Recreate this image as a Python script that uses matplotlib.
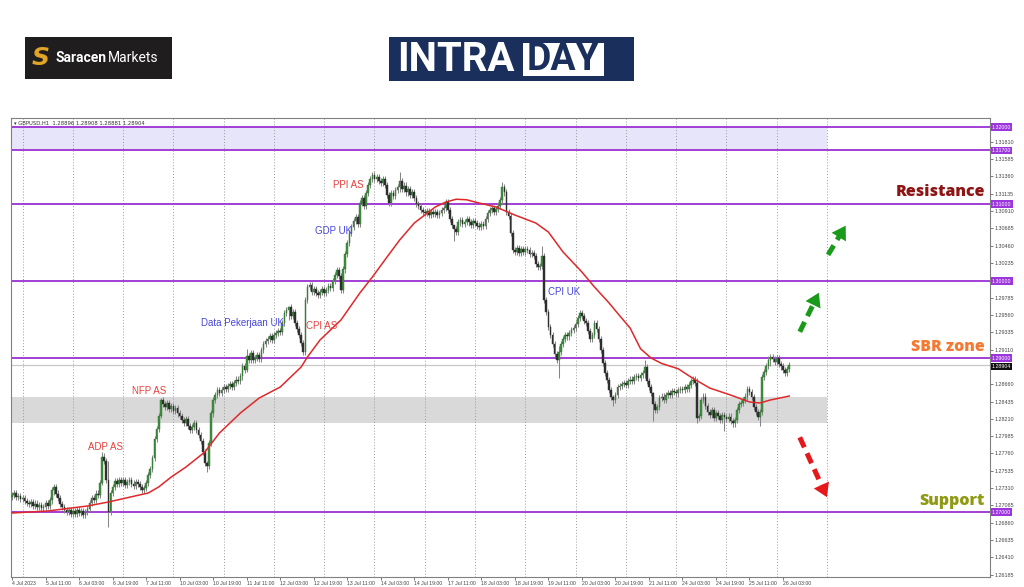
import numpy as np
import matplotlib
matplotlib.use("Agg")
import matplotlib.pyplot as plt
from matplotlib.patches import Rectangle
from matplotlib.transforms import blended_transform_factory

# GBPUSD H1 closes, in 1e-4 above 1.0000 (2722 -> 1.2722)
closes_pips = [
    2722, 2725, 2719, 2721, 2717, 2718, 2714, 2712,
    2710, 2713, 2708, 2711, 2706, 2709, 2705, 2707,
    2712, 2708, 2715, 2728, 2733, 2724, 2718, 2710,
    2706, 2703, 2700, 2702, 2698, 2701, 2697, 2703,
    2699, 2701, 2696, 2700, 2704, 2712, 2718, 2716,
    2724, 2722, 2738, 2772, 2766, 2742, 2700, 2725,
    2733, 2740, 2736, 2742, 2738, 2741, 2735, 2739,
    2742, 2737, 2734, 2739, 2736, 2733, 2729, 2731,
    2738, 2748, 2756, 2770, 2795, 2808, 2825, 2845,
    2840, 2836, 2842, 2834, 2838, 2831, 2835, 2828,
    2825, 2820, 2816, 2821, 2812, 2807, 2810, 2815,
    2806, 2800, 2792, 2778, 2764, 2760, 2790, 2828,
    2845, 2852, 2858, 2855, 2859, 2862, 2860, 2864,
    2866, 2863, 2868, 2872, 2870, 2876, 2890, 2884,
    2902, 2898, 2906, 2897, 2900, 2904, 2899, 2910,
    2918, 2922, 2925, 2928, 2924, 2930, 2933, 2935,
    2934, 2945, 2958, 2962, 2966, 2955, 2960, 2946,
    2938, 2930, 2920, 2908, 2975, 2992, 2995, 2986,
    2990, 2984, 2982, 2986, 2990, 2985, 2988, 2993,
    2991, 3000, 3008, 3014, 3006, 2988, 3015, 3035,
    3049, 3062, 3070, 3078, 3083, 3074, 3101, 3108,
    3098, 3114, 3125, 3132, 3138, 3133, 3135, 3130,
    3127, 3132, 3125, 3112, 3101, 3114, 3110, 3118,
    3122, 3130, 3120, 3124, 3115, 3119, 3112, 3116,
    3108, 3100, 3097, 3092, 3090, 3088, 3091, 3086,
    3089, 3087, 3090, 3086, 3088, 3092, 3095, 3103,
    3092, 3080, 3073, 3068, 3064, 3076, 3079, 3074,
    3077, 3080, 3076, 3073, 3078, 3075, 3072, 3070,
    3074, 3071, 3080, 3088, 3092, 3095, 3090, 3093,
    3098, 3105, 3122, 3115, 3090, 3084, 3062, 3040,
    3038, 3043, 3036, 3041, 3038, 3042, 3040, 3035,
    3036, 3032, 3022, 3018, 3020, 3032, 2975, 2960,
    2940, 2930, 2918, 2905, 2898, 2908, 2918, 2925,
    2930, 2928, 2933, 2936, 2939, 2944, 2952, 2958,
    2955, 2948, 2945, 2935, 2925, 2930, 2945, 2938,
    2925, 2910, 2893, 2880, 2871, 2858, 2850, 2845,
    2852, 2862, 2864, 2866, 2868, 2865, 2870, 2872,
    2870, 2875, 2877, 2874, 2878, 2880, 2888, 2870,
    2862, 2855, 2840, 2832, 2836, 2848, 2850, 2846,
    2852, 2855, 2852, 2857, 2856, 2854, 2858, 2860,
    2858, 2862, 2860, 2865, 2870, 2872, 2868, 2822,
    2825, 2846, 2850, 2838, 2830, 2826, 2832, 2822,
    2828, 2825, 2820, 2826, 2823, 2821, 2824, 2818,
    2815, 2820, 2832, 2840, 2842, 2845, 2850, 2860,
    2856, 2849, 2836, 2830, 2824, 2830, 2875, 2882,
    2890, 2898, 2901, 2899, 2895, 2900, 2892, 2889,
    2884, 2880, 2886, 2890.4,
]
first_open_pips = 2720

# bars with long wicks: index -> (high, low) in the same units
wick_pips = {
    20: (2736, 2722), 43: (2778, 2735), 46: (2766, 2681), 71: (2848, 2822),
    93: (2766, 2752), 112: (2912, 2882), 132: (2968, 2950), 185: (3142, 3115),
    211: (3072, 3052), 234: (3128, 3100), 253: (3045, 3015), 261: (2915, 2874),
    287: (2852, 2838), 302: (2898, 2874), 306: (2856, 2818), 327: (2874, 2816),
    340: (2830, 2805), 357: (2834, 2812), 362: (2905, 2890),
}

# red moving average (bar index, price)
ma_idx = [0, 17, 36, 46, 65, 70, 76, 83, 92, 99, 109, 118, 128, 138, 141, 147,
          157, 166, 172, 179, 185, 192, 202, 207, 212, 217, 221, 231, 240, 250,
          256, 263, 272, 278, 285, 290, 295, 300, 305, 310, 318, 324, 333, 343,
          352, 357, 362, 371]
ma_val = [1.26987, 1.27013, 1.27078, 1.2713, 1.27247, 1.27325, 1.27455, 1.27584,
          1.27779, 1.28026, 1.28286, 1.28481, 1.28623, 1.28883, 1.29013, 1.29234,
          1.29494, 1.29844, 1.30052, 1.30312, 1.30532, 1.30753, 1.30961, 1.31025,
          1.31062, 1.31055, 1.31026, 1.30961, 1.30857, 1.30753, 1.30636, 1.30377,
          1.30117, 1.29922, 1.29714, 1.2955, 1.2939, 1.2912, 1.2900, 1.2893,
          1.2886, 1.28753, 1.2861, 1.28519, 1.28429, 1.28416, 1.28455, 1.28506]

levels = [1.32000, 1.31700, 1.31000, 1.30000, 1.29000, 1.27000]
last_price = 1.28904
zone_top, zone_bottom = 1.2850, 1.2816
box_top, box_bottom = 1.3200, 1.3170

price_ticks = [1.26185, 1.26410, 1.26635, 1.26860, 1.27085, 1.27310, 1.27535,
               1.27760, 1.27985, 1.28210, 1.28435, 1.28660, 1.29110, 1.29335,
               1.29560, 1.29785, 1.30235, 1.30460, 1.30685, 1.30910, 1.31135,
               1.31360, 1.31585, 1.31810]

time_labels = ["4 Jul 2023", "5 Jul 11:00", "6 Jul 03:00", "6 Jul 19:00", "7 Jul 11:00",
               "10 Jul 03:00", "10 Jul 19:00", "11 Jul 11:00", "12 Jul 03:00",
               "12 Jul 19:00", "13 Jul 11:00", "14 Jul 03:00", "14 Jul 19:00",
               "17 Jul 11:00", "18 Jul 03:00", "18 Jul 19:00", "19 Jul 11:00",
               "20 Jul 03:00", "20 Jul 19:00", "21 Jul 11:00", "24 Jul 03:00",
               "24 Jul 19:00", "25 Jul 11:00", "26 Jul 03:00"]
bars_per_label = 16
day_start_idx = 5      # first midnight bar
bars_per_day = 24

# news notes: (text, bar index, price, colour)
notes = [
    ("PPI AS", 153, 1.31247, "#e8403c"),
    ("GDP UK", 144.5, 1.30649, "#4747d8"),
    ("Data Pekerjaan UK", 90, 1.29455, "#4747d8"),
    ("CPI AS", 140.3, 1.29416, "#e8403c"),
    ("CPI UK", 255.8, 1.29857, "#4747d8"),
    ("NFP AS", 57.3, 1.28571, "#e8403c"),
    ("ADP AS", 36.3, 1.27844, "#e8403c"),
]

# scenario arrows: (start idx, start price, tip idx, tip price, colour)
arrows = [
    (376, 1.2934, 385.7, 1.2988, "#1a9a1a"),
    (389.5, 1.3034, 398.6, 1.3075, "#1a9a1a"),
    (376, 1.2797, 389.5, 1.2716, "#e5191b"),
]

closes = 1 + np.array(closes_pips) / 10000
opens = np.concatenate([[1 + first_open_pips / 10000], closes[:-1]])
highs = np.maximum(opens, closes) + 0.0004
lows = np.minimum(opens, closes) - 0.0004
for i, (h, l) in wick_pips.items():
    highs[i] = 1 + h / 10000
    lows[i] = 1 + l / 10000
x = np.arange(len(closes))

fig = plt.figure(figsize=(10.24, 5.87), dpi=100)
fig.patch.set_facecolor("white")
ax = fig.add_axes([11 / 1024, 1 - 577 / 587, 979 / 1024, 459 / 587])

ymin, ymax = 1.26156, 1.32117
ax.set_ylim(ymin, ymax)
ax.set_xlim(-0.5, 466.8)

last_grid = day_start_idx + bars_per_day * 16
ax.fill_between([-0.5, last_grid], box_bottom, box_top, color="#e7e5f9", lw=0, zorder=0)
ax.fill_between([-0.5, last_grid], zone_bottom, zone_top, color="#d9d9d9", lw=0, zorder=0)

for g in range(day_start_idx, last_grid + 1, bars_per_day):
    ax.axvline(g, color="#9a9a9a", lw=0.7, ls=(0, (1, 2)), zorder=1)

ax.axhline(last_price, color="#c8c8c8", lw=0.9, zorder=1)
for lv in levels:
    ax.axhline(lv, color="#a23fd6", lw=1.4, zorder=2)

# candles
up = closes >= opens
ax.vlines(x, lows, highs, color="#858585", lw=0.75, zorder=3)
body_h = np.maximum(np.abs(closes - opens), 0.00005)
ax.bar(x[up], body_h[up], bottom=opens[up], width=0.8, color="#3f923f",
       edgecolor="#2c6a2c", lw=0.3, zorder=4)
ax.bar(x[~up], body_h[~up], bottom=closes[~up], width=0.8, color="#2e2e2e",
       edgecolor="#2e2e2e", lw=0.3, zorder=4)

ax.plot(ma_idx, ma_val, color="#e0282a", lw=1.1, zorder=5)

for txt, xi, yv, col in notes:
    ax.text(xi, yv, txt, color=col, fontsize=7, family="Liberation Sans",
            ha="left", va="center", zorder=6)

for x0, y0, x1, y1, col in arrows:
    fx = x0 + (x1 - x0) * 0.8
    fy = y0 + (y1 - y0) * 0.8
    ax.plot([x0, fx], [y0, fy], color=col, lw=3.6, dashes=(2.2, 1.3),
            solid_capstyle="butt", zorder=6, clip_on=False)
    ax.annotate("", xy=(x1, y1), xytext=(fx, fy),
                arrowprops=dict(arrowstyle="-|>,head_length=0.8,head_width=0.5",
                                color=col, lw=0, mutation_scale=12),
                zorder=6, annotation_clip=False)

# axes styling
for s in ax.spines.values():
    s.set_color("#808080")
    s.set_linewidth(0.8)
ax.yaxis.tick_right()
ax.set_yticks(price_ticks)
ax.set_yticklabels([f"{p:.5f}" for p in price_ticks], family="Liberation Sans")
ax.tick_params(axis="y", labelsize=3.9, length=2, pad=1.5, colors="#444444", width=0.5)
ax.set_xticks(range(0, bars_per_label * len(time_labels), bars_per_label))
ax.set_xticklabels(time_labels, family="Liberation Sans")
ax.tick_params(axis="x", labelsize=3.7, length=2, pad=1, colors="#444444", width=0.5)
for lbl in ax.get_xticklabels():
    lbl.set_ha("left")

trans = blended_transform_factory(ax.transAxes, ax.transData)
for lv in levels:
    ax.text(1.002, lv, f"{lv:.5f}", transform=trans, fontsize=3.8, color="white",
            family="Liberation Sans", va="center", ha="left", zorder=7,
            bbox=dict(boxstyle="square,pad=0.2", fc="#9c36dc", ec="none"))
ax.text(1.002, last_price - 0.0002, f"{last_price:.5f}", transform=trans, fontsize=3.8,
        color="white", family="Liberation Sans", va="center", ha="left", zorder=7,
        bbox=dict(boxstyle="square,pad=0.2", fc="#111111", ec="none"))

ax.text(0.003, 0.993, "\u25be GBPUSD,H1  1.28896 1.28908 1.28881 1.28904",
        transform=ax.transAxes, fontsize=3.8, color="#333333", va="top", ha="left")

# right-hand labels
def fxy(px, py):
    return px / 1024, 1 - py / 587

for txt, px, py, col in [("Resistance", 985, 192, "#8e1414"),
                         ("SBR zone", 985, 347, "#f47a33"),
                         ("Support", 985, 501, "#8e9a12")]:
    fig.text(*fxy(px, py), txt, color=col, fontsize=11.5, fontweight="heavy",
             family="Open Sans", ha="right", va="center")

# logos
fig.add_artist(Rectangle(fxy(25, 79), 147 / 1024, 42 / 587, transform=fig.transFigure,
                         fc="#1f1d1e", ec="none"))
fig.text(*fxy(41, 58), "S", color="#e0a526", fontsize=18, fontweight="bold",
         style="italic", ha="center", va="center")
fig.text(*fxy(56, 58), "Saracen", color="white", fontsize=10, fontweight="bold",
         family="Roboto", ha="left", va="center")
fig.text(*fxy(108, 58), "Markets", color="white", fontsize=10,
         family="Roboto", ha="left", va="center")

fig.add_artist(Rectangle(fxy(389, 81), 245 / 1024, 44 / 587, transform=fig.transFigure,
                         fc="#1b2f5c", ec="none"))
fig.add_artist(Rectangle(fxy(523, 76), 81 / 1024, 33 / 587, transform=fig.transFigure,
                         fc="white", ec="none"))
fig.text(*fxy(397, 60), "INTRA", color="white", fontsize=29, fontweight="bold",
         family="Roboto", ha="left", va="center")
fig.text(*fxy(563.5, 60), "DAY", color="#1b2f5c", fontsize=27, fontweight="bold",
         family="Roboto", ha="center", va="center")
ax.annotate("", xy=(632, 587 - 40), xytext=(610, 587 - 60), xycoords="figure pixels",
            arrowprops=dict(arrowstyle="simple,head_width=1.1,head_length=0.9,tail_width=0.5",
                            color="#2fc5d8", mutation_scale=14), annotation_clip=False)
ax.annotate("", xy=(607, 587 - 79), xytext=(628, 587 - 58), xycoords="figure pixels",
            arrowprops=dict(arrowstyle="simple,head_width=1.1,head_length=0.9,tail_width=0.5",
                            color="#e63ad8", mutation_scale=14), annotation_clip=False)

fig.savefig("out.png", dpi=100)
